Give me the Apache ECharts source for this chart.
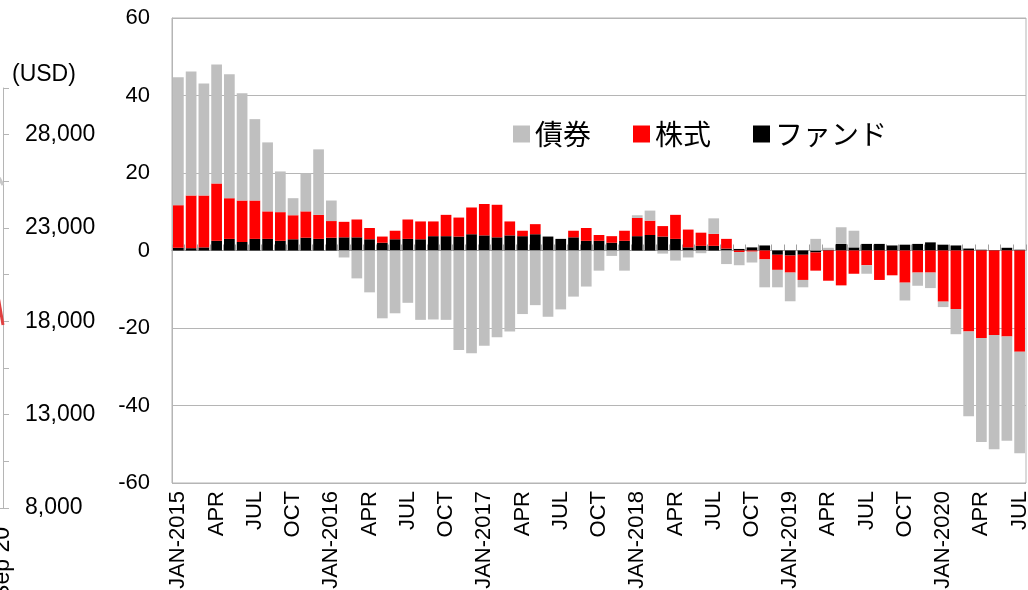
<!DOCTYPE html>
<html>
<head>
<meta charset="utf-8">
<script src="https://cdn.jsdelivr.net/npm/echarts@6/dist/echarts.min.js"></script>
<style>
html,body{margin:0;padding:0;background:#fff;}
#main{width:1028px;height:590px;}
</style>
</head>
<body>
<div id="main"></div>
<script>
// ---- data ----
const years = [2015, 2016, 2017, 2018, 2019, 2020];
const monthNames = ['JAN','FEB','MAR','APR','MAY','JUN','JUL','AUG','SEP','OCT','NOV','DEC'];
const monthCount = 67; // JAN-2015 .. JUL-2020

// ファンド (black)
const fund = [
  0.7, 0.6, 0.8, 2.5, 3.0, 2.2, 3.0, 3.0, 2.5, 2.9, 3.3, 3.0,
  3.3, 3.4, 3.4, 2.9, 2.0, 2.9, 3.0, 2.9, 3.7, 3.7, 3.6, 4.2,
  3.9, 3.4, 3.9, 3.7, 4.2, 3.6, 3.0, 3.4, 2.5, 2.5, 2.0, 2.5,
  3.7, 4.0, 3.6, 3.0, 0.8, 1.2, 1.2, 0.5, 0.4, 0.8, 1.3, -1.1,
  -1.3, -1.1, -0.5, 0.2, 1.7, 0.8, 1.7, 1.7, 1.3, 1.5, 1.7, 2.1,
  1.5, 1.3, 0.5, 0.2, 0.1, 0.7, 0.2
];
// 株式 (red)
const stock = [
  11.0, 13.6, 13.4, 14.8, 10.5, 10.7, 9.9, 7.1, 7.4, 6.2, 6.8, 6.2,
  4.3, 4.0, 4.6, 2.9, 1.6, 2.2, 5.0, 4.6, 3.8, 5.5, 4.9, 6.9,
  8.1, 8.4, 3.6, 1.4, 2.6, 0, 0, 1.7, 3.3, 1.5, 1.7, 2.6,
  4.7, 3.7, 2.7, 6.2, 4.6, 3.4, 3.1, 2.5, -0.4, -0.3, -2.3, -3.9,
  -4.4, -6.5, -4.7, -7.8, -9.0, -6.0, -3.8, -7.6, -6.4, -8.3, -5.7, -5.7,
  -13.2, -15.1, -20.9, -22.6, -21.8, -22.2, -26.1
];
// 債券 (gray)
const bond = [
  33.0, 32.0, 28.9, 30.7, 32.0, 27.7, 21.0, 17.8, 10.5, 4.4, 9.8, 16.9,
  5.3, -1.8, -7.2, -10.8, -17.5, -16.2, -13.5, -17.9, -17.8, -17.9, -25.7, -26.5,
  -24.6, -22.4, -20.9, -16.4, -14.1, -17.1, -15.2, -11.9, -9.3, -5.2, -1.4, -5.2,
  0.7, 2.6, -0.8, -2.6, -1.8, -0.7, 4.0, -3.5, -3.4, -2.8, -7.2, -4.5,
  -7.4, -1.9, 3.0, 0.5, 4.3, 4.3, -2.2, 0, 0, -4.6, -3.4, -4.0,
  -1.4, -6.5, -21.9, -26.8, -29.5, -26.9, -26.2
];

// left (cut-off) neighbouring chart fragment
const leftCats = ['Aug 20', 'Sep 20'];
const leftGray = [26600, 25300];
const leftRed = [21900, 17800];

// y tick settings
const yMin = -60, yMax = 60, yStep = 20;

// categories / tick labels
const categories = [];
for (let i = 0; i < monthCount; i++) {
  const y = years[Math.floor(i / 12)];
  const m = monthNames[i % 12];
  categories.push(m === 'JAN' ? m + '-' + y : m);
}

const gridColor = '#b5b5b5';
const font = '"Liberation Sans", Arial, sans-serif';

const chart = echarts.init(document.getElementById('main'));
const option = {
  animation: false,
  backgroundColor: '#fff',
  textStyle: { fontFamily: font },
  legend: {
    data: ['債券', '株式', 'ファンド'],
    left: 508, top: 115,
    itemWidth: 17, itemHeight: 17, itemGap: 42,
    icon: 'rect',
    textStyle: { fontSize: 28, color: '#000', fontFamily: '"Noto Sans CJK JP", sans-serif' }
  },
  grid: [
    { left: 172, right: 2, top: 18, bottom: 107, show: true, borderColor: gridColor, borderWidth: 1,
      containLabel: false, outerBoundsMode: 'none' },
    { left: -10, right: 1025, top: 88, bottom: 82, containLabel: false, outerBoundsMode: 'none' }
  ],
  xAxis: [
    {
      type: 'category', gridIndex: 0, data: categories,
      axisLine: { show: false, onZero: false },
      axisTick: { show: false },
      axisLabel: { interval: 2, rotate: 90, fontSize: 22, color: '#000', margin: 8, fontFamily: font }
    },
    {
      type: 'category', gridIndex: 0, data: categories,
      axisLine: { show: true, onZero: true, lineStyle: { color: '#a0a0a0', width: 1 } },
      axisTick: { show: true, interval: 0, length: 6, lineStyle: { color: '#a0a0a0' } },
      axisLabel: { show: false }
    },
    {
      type: 'category', gridIndex: 1, data: leftCats, boundaryGap: false,
      axisLine: { show: true, lineStyle: { color: gridColor } },
      axisTick: { show: false },
      axisLabel: {
        interval: function (i) { return i === leftCats.length - 1; },
        rotate: 90, fontSize: 23, color: '#000', margin: 19, fontFamily: font
      }
    }
  ],
  yAxis: [
    {
      type: 'value', gridIndex: 0, min: yMin, max: yMax, interval: yStep,
      axisLine: { show: true, lineStyle: { color: gridColor } },
      axisTick: { show: false },
      splitLine: { lineStyle: { color: gridColor, width: 1 } },
      axisLabel: { fontSize: 22, color: '#000', margin: 22, fontFamily: font }
    },
    {
      type: 'value', gridIndex: 1, position: 'right', min: 8000, max: 30500, interval: 5000,
      name: '(USD)', nameLocation: 'end', nameGap: 2,
      nameTextStyle: { fontSize: 23, color: '#000', align: 'left', padding: [0, 0, 0, 9], fontFamily: font },
      axisLine: { show: true, lineStyle: { color: gridColor } },
      axisTick: { show: true, length: 6, lineStyle: { color: gridColor } },
      minorTick: { show: true, splitNumber: 2, length: 6, lineStyle: { color: gridColor } },
      splitLine: { show: false },
      axisLabel: {
        fontSize: 23, color: '#000', margin: 22, showMaxLabel: false, fontFamily: font,
        formatter: function (v) { return v.toLocaleString('en-US'); }
      }
    }
  ],
  series: [
    { name: 'ファンド', type: 'bar', stack: 'total', xAxisIndex: 0, yAxisIndex: 0, data: fund,
      barCategoryGap: '16%', itemStyle: { color: '#000000' } },
    { name: '株式', type: 'bar', stack: 'total', xAxisIndex: 0, yAxisIndex: 0, data: stock,
      barCategoryGap: '16%', itemStyle: { color: '#ff0000' } },
    { name: '債券', type: 'bar', stack: 'total', xAxisIndex: 0, yAxisIndex: 0, data: bond,
      barCategoryGap: '16%', itemStyle: { color: '#bfbfbf' } },
    { name: 'leftGray', type: 'line', xAxisIndex: 2, yAxisIndex: 1, data: leftGray,
      symbol: 'none', lineStyle: { color: '#c8c8c8', width: 3 } },
    { name: 'leftRed', type: 'line', xAxisIndex: 2, yAxisIndex: 1, data: leftRed,
      symbol: 'none', lineStyle: { color: '#e04040', width: 3 } }
  ]
};
chart.setOption(option);
</script>
</body>
</html>
